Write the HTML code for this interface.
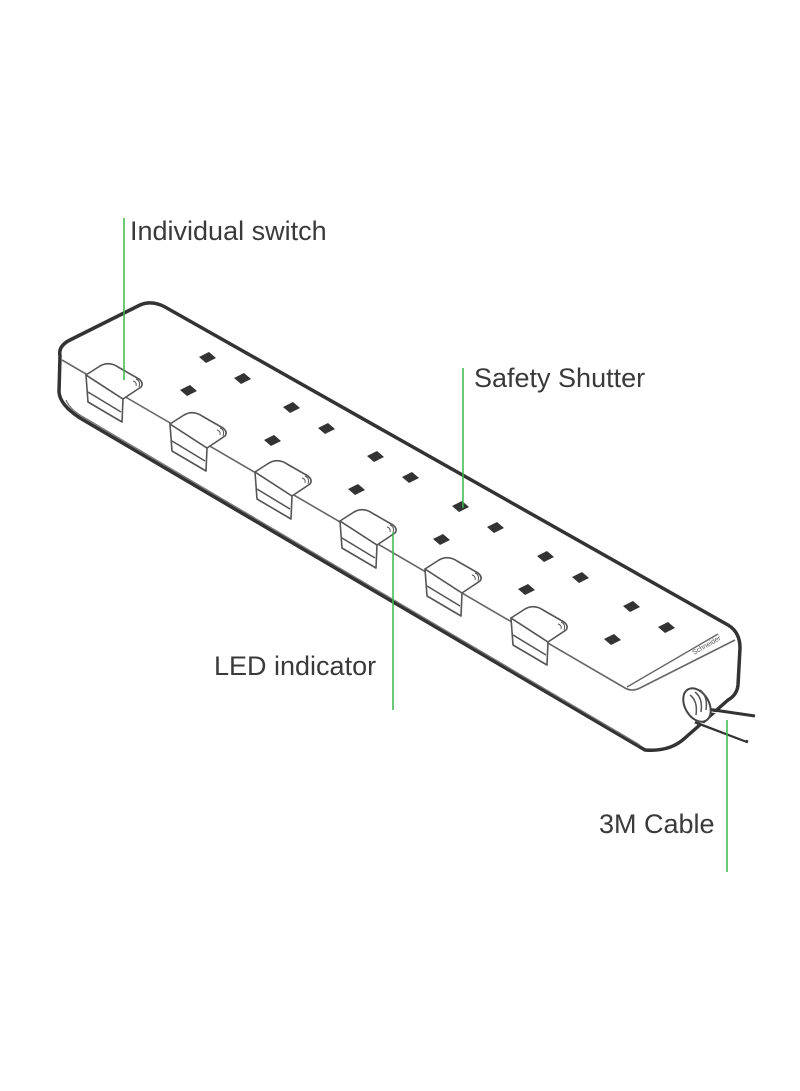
<!DOCTYPE html>
<html><head><meta charset="utf-8"><style>
html,body{margin:0;padding:0;background:#fff;}
svg{display:block}
text{font-family:"Liberation Sans",sans-serif;fill:#3a3a3a;font-size:27px}
</style></head><body>
<svg width="800" height="1091" viewBox="0 0 800 1091" xmlns="http://www.w3.org/2000/svg">
<defs>
<g id="sw" fill="#fff" stroke="#555" stroke-width="1.6" stroke-linejoin="round">
  <path d="M0,0 L2,27 L36,47 L37,24 Z"/>
  <path d="M2,17 L35,37"/>
  <path d="M0,0 L14,-9 Q23,-14 32,-8 L53,4 Q58,8 55,12 L37,24 Z"/>
  <path d="M47,6 q4,1 3,5 M50,4 q5,2 3,8" fill="none" stroke-width="1"/>
</g>
<g id="sk" fill="#333">
  <polygon points="0,0 10,-5 17,1 7,6"/>
  <polygon points="35,21 45,16 52,22 42,27"/>
  <polygon points="-19,33 -9,28 -2,34 -12,39"/>
</g>
</defs>
<path d="M60,356 Q58,346 70,340 L140,305 Q152,300 165,307 L728,625 Q740,632 740,648 L738,685 Q737,695 728,700 L685,738 Q670,752 645,750 L80,418 Q60,405 59,392 Z" fill="#fff" stroke="#333" stroke-width="3.5" stroke-linejoin="round"/>
<path d="M62,360 L625,688 Q632,692 640,688 L735,640" fill="none" stroke="#666" stroke-width="1.6"/>
<path d="M627,687 L718,634" fill="none" stroke="#666" stroke-width="1.4"/>
<path d="M66,400 Q70,410 85,418 L640,745" fill="none" stroke="#777" stroke-width="1.3"/>
<use href="#sk" x="199" y="357"/>
<use href="#sk" x="283" y="407"/>
<use href="#sk" x="367" y="456"/>
<use href="#sk" x="452" y="506"/>
<use href="#sk" x="537" y="556"/>
<use href="#sk" x="623" y="606"/>
<use href="#sw" x="86" y="375"/>
<use href="#sw" x="170" y="424"/>
<use href="#sw" x="255" y="472"/>
<use href="#sw" x="340" y="521"/>
<use href="#sw" x="425" y="569"/>
<use href="#sw" x="511" y="618"/>
<text x="694" y="655" transform="rotate(-30 694 655)" style="font-size:7px;fill:#555">Schneider</text>
<path d="M700,708 L755,716 M695,722 L748,742" stroke="#333" stroke-width="3" fill="none"/>
<path d="M698,710 L752,718 M694,720 L746,740" stroke="#fff" stroke-width="1" fill="none"/>
<ellipse cx="697" cy="705" rx="12" ry="18" transform="rotate(-30 697 705)" fill="#fff" stroke="#444" stroke-width="2"/>
<path d="M690,695 q8,6 6,20 M695,692 q8,6 6,20 M700,690 q8,6 6,20" fill="none" stroke="#555" stroke-width="1.5"/>
<g stroke="#3cb84a" stroke-width="1.5">
<line x1="124" y1="218" x2="124" y2="380"/>
<line x1="463" y1="368" x2="463" y2="508"/>
<line x1="393" y1="532" x2="393" y2="710"/>
<line x1="727" y1="720" x2="727" y2="872"/>
</g>
<text x="130" y="240">Individual switch</text>
<text x="474" y="387">Safety Shutter</text>
<text x="214" y="675">LED indicator</text>
<text x="599" y="833">3M Cable</text>
</svg>
</body></html>
